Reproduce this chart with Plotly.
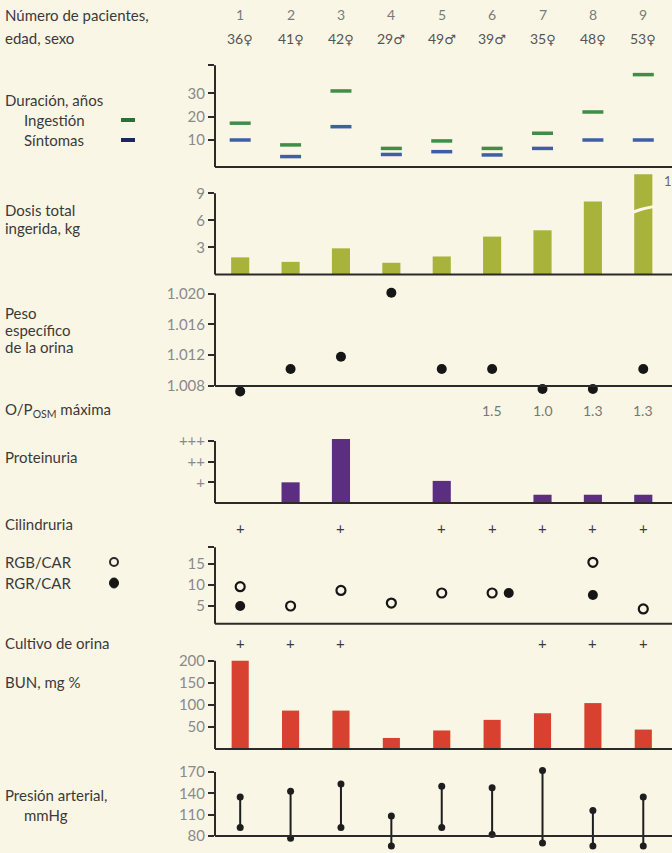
import plotly.graph_objects as go

W, H = 672, 853
PLOT_LEFT = 215  # pixel column of the value axes
FONT = "Lato"

patients = [1, 2, 3, 4, 5, 6, 7, 8, 9]
ages = ["36", "41", "42", "29", "49", "39", "35", "48", "53"]
sexes = ["♀", "♀", "♀", "♂", "♂", "♂", "♀", "♀", "♀"]

# Duración, años
ingestion_years = [17.2, 7.9, 31, 6.4, 9.6, 6.4, 12.9, 22, 38]
symptoms_years = [10, 2.9, 15.7, 3.8, 5, 3.6, 6.4, 10, 10]

# Dosis total ingerida, kg (patient 9 runs off the scale)
total_dose_kg = [1.9, 1.4, 2.9, 1.3, 2.0, 4.2, 4.9, 8.1, 11.1]
dose_break_kg = 7.2
dose_offscale_label = "1"

# Peso específico de la orina
urine_sg = [1.0073, 1.0102, 1.0118, 1.0201, 1.0102, 1.0102, 1.0076, 1.0076, 1.0102]

# O/P osm máxima
op_osm_max = [None, None, None, None, None, 1.5, 1.0, 1.3, 1.3]

# Proteinuria (+ scale)
proteinuria = [None, 1.0, 3.1, None, 1.07, None, 0.4, 0.4, 0.4]
prot_labels = ["+", "++", "+++"]

cylinduria = ["+", "", "+", "", "+", "+", "+", "+", "+"]

# RGB/CAR (open) and RGR/CAR (filled)
rgb_car = [9.6, 5, 8.7, 5.7, 8.1, 8.1, None, 15.4, 4.3]
rgr_car = [5, None, None, None, None, 8.1, None, 7.6, None]
rgr_shift = [0, 0, 0, 0, 0, 0.33, 0, 0, 0]

urine_culture = ["+", "+", "+", "", "", "", "+", "+", "+"]

# BUN, mg %
bun = [200, 87, 87, 25, 42, 66, 81, 104, 44]

# Presión arterial, mmHg
bp_sys = [135, 143, 153, 108, 150, 148, 172, 116, 135]
bp_dia = [92, 77, 92, 66, 92, 82, 70, 66, 66]

GREEN = "#3f8d47"
BLUE = "#3d5fa6"
OLIVE = "#a8b33c"
PURPLE = "#5b2e82"
RED = "#d8412f"
INK = "#2a2a2a"
DOT = "#161616"
TICK_GREY = "#8a8a8a"


def py(p):
    return 1 - p / H


def px(p):
    return (p - PLOT_LEFT) / (W - PLOT_LEFT)


# each panel: two calibration points (value, pixel row), domain rows, baseline, top tick, ticks
panels = [
    dict(cal=((10, 140), (30, 93.3)), dom=(58, 169), base=-1.6, top=42,
         tickvals=[10, 20, 30, 42], ticktext=["10", "20", "30", ""]),
    dict(cal=((0, 274.5), (9, 193.3)), dom=(169, 280), base=0, top=9,
         tickvals=[3, 6, 9], ticktext=["3", "6", "9"]),
    dict(cal=((1.008, 386), (1.020, 293.5)), dom=(285, 400), base=1.008, top=1.020,
         tickvals=[1.008, 1.012, 1.016, 1.020], ticktext=["1.008", "1.012", "1.016", "1.020"]),
    dict(cal=((0, 503), (3, 441)), dom=(425, 509), base=0, top=3,
         tickvals=[1, 2, 3], ticktext=prot_labels),
    dict(cal=((5, 606), (15, 564)), dom=(540, 630), base=0.75, top=19,
         tickvals=[5, 10, 15, 19], ticktext=["5", "10", "15", ""]),
    dict(cal=((0, 749), (200, 660.7)), dom=(652, 754), base=0, top=200,
         tickvals=[50, 100, 150, 200], ticktext=["50", "100", "150", "200"]),
    dict(cal=((80, 836), (170, 772)), dom=(762, 853), base=80, top=170,
         tickvals=[80, 110, 140, 170], ticktext=["80", "110", "140", "170"]),
]

x_range = [0.5, 9.57]

fig = go.Figure()
layout_axes = {}
shapes = []
for k, p in enumerate(panels, start=1):
    (v_a, p_a), (v_b, p_b) = p["cal"]
    scale = (p_a - p_b) / (v_b - v_a)
    top_px, bot_px = p["dom"]
    lo = v_a + (p_a - bot_px) / scale
    hi = v_a + (p_a - top_px) / scale
    sfx = "" if k == 1 else str(k)
    layout_axes["xaxis" + sfx] = dict(domain=[0, 1], range=x_range, anchor="y" + sfx,
                                      visible=False)
    layout_axes["yaxis" + sfx] = dict(
        domain=[py(bot_px), py(top_px)], range=[lo, hi], anchor="x" + sfx,
        tickvals=p["tickvals"], ticktext=p["ticktext"],
        ticks="outside", ticklen=6, tickwidth=2, tickcolor=INK,
        showgrid=False, zeroline=False, showline=False,
        tickfont=dict(family=FONT, size=15, color=TICK_GREY),
    )
    # baseline and short value axis
    shapes.append(dict(type="line", xref="x" + sfx + " domain", yref="y" + sfx,
                       x0=0, x1=1, y0=p["base"], y1=p["base"],
                       line=dict(color=INK, width=2)))
    shapes.append(dict(type="line", xref="x" + sfx + " domain", yref="y" + sfx,
                       x0=0, x1=0, y0=p["base"], y1=p["top"],
                       line=dict(color=INK, width=2)))

# 1. duration dashes
fig.add_trace(go.Scatter(x=patients, y=ingestion_years, mode="markers", xaxis="x", yaxis="y",
                         marker=dict(symbol="line-ew", size=15, line=dict(width=3.5, color=GREEN))))
fig.add_trace(go.Scatter(x=patients, y=symptoms_years, mode="markers", xaxis="x", yaxis="y",
                         marker=dict(symbol="line-ew", size=15, line=dict(width=3.5, color=BLUE))))

# 2. total dose
fig.add_trace(go.Bar(x=patients, y=total_dose_kg, width=0.36, xaxis="x2", yaxis="y2",
                     marker=dict(color=OLIVE, line=dict(width=0))))
brk_x = patients[-1]
fig.add_trace(go.Scatter(x=[brk_x - 0.22, brk_x - 0.05, brk_x + 0.22],
                         y=[dose_break_kg - 0.35, dose_break_kg, dose_break_kg + 0.35],
                         mode="lines", line=dict(color="#fbf8ea", width=3, shape="spline"),
                         xaxis="x2", yaxis="y2"))

# 3. urine specific gravity
fig.add_trace(go.Scatter(x=patients, y=urine_sg, mode="markers", xaxis="x3", yaxis="y3",
                         cliponaxis=False, marker=dict(size=10, color=DOT)))

# 4. proteinuria
fig.add_trace(go.Bar(x=patients, y=proteinuria, width=0.36, xaxis="x4", yaxis="y4",
                     marker=dict(color=PURPLE, line=dict(width=0))))

# 5. casts
fig.add_trace(go.Scatter(x=patients, y=rgb_car, mode="markers", xaxis="x5", yaxis="y5",
                         marker=dict(symbol="circle-open", size=9, color=DOT,
                                     line=dict(width=2.2, color=DOT))))
fig.add_trace(go.Scatter(x=[p + s for p, s in zip(patients, rgr_shift)], y=rgr_car, mode="markers",
                         xaxis="x5", yaxis="y5", marker=dict(size=10, color=DOT)))

# 6. BUN
fig.add_trace(go.Bar(x=patients, y=bun, width=0.34, xaxis="x6", yaxis="y6",
                     marker=dict(color=RED, line=dict(width=0))))

# 7. blood pressure
bp_x, bp_y = [], []
for p, s, d in zip(patients, bp_sys, bp_dia):
    bp_x += [p, p, None]
    bp_y += [d, s, None]
fig.add_trace(go.Scatter(x=bp_x, y=bp_y, mode="lines+markers", xaxis="x7", yaxis="y7",
                         cliponaxis=False, line=dict(color="#1e1e1e", width=2),
                         marker=dict(size=7, color="#1e1e1e")))

annotations = []


def label(text, x_px, y_px, size=15, color="#3a3a3a"):
    annotations.append(dict(text=text, xref="paper", yref="paper", x=px(x_px), y=py(y_px),
                            xanchor="left", yanchor="middle", showarrow=False,
                            font=dict(family=FONT, size=size, color=color)))


def row(texts, y_px, size=14, color="#3a3a3a"):
    for p, t in zip(patients, texts):
        if t:
            annotations.append(dict(text=t, xref="x", yref="paper", x=p, y=py(y_px),
                                    xanchor="center", yanchor="middle", showarrow=False,
                                    font=dict(family=FONT, size=size, color=color)))


label("Número de pacientes,", 3, 15)
label("edad, sexo", 3, 38)
row([str(p) for p in patients], 15, size=14, color="#7a7a7a")
row([f'{a}<span style="font-family:DejaVu Sans;font-size:13px">{s}</span>'
     for a, s in zip(ages, sexes)], 38, size=14, color="#555555")

label("Duración, años", 3, 100)
label("Ingestión", 22, 120)
label("Síntomas", 22, 140)
shapes.append(dict(type="line", xref="paper", yref="paper", x0=px(121), x1=px(135),
                   y0=py(120), y1=py(120), line=dict(color="#2e6e3a", width=4)))
shapes.append(dict(type="line", xref="paper", yref="paper", x0=px(121), x1=px(135),
                   y0=py(140), y1=py(140), line=dict(color="#1c2660", width=4)))

label("Dosis total", 3, 210)
label("ingerida, kg", 3, 228)
annotations.append(dict(text=dose_offscale_label, xref="paper", yref="paper", x=px(662), y=py(181),
                        xanchor="left", yanchor="middle", showarrow=False,
                        font=dict(family=FONT, size=13, color="#666666")))

label("Peso", 3, 313)
label("específico", 3, 330)
label("de la orina", 3, 347)

label("O/P<sub>OSM</sub> máxima", 3, 410)
row(["" if v is None else f"{v:.1f}" for v in op_osm_max], 410, size=14, color="#777777")

label("Proteinuria", 3, 457)
label("Cilindruria", 3, 524)
row(cylinduria, 528, size=15)

label("RGB/CAR", 3, 562)
label("RGR/CAR", 3, 583)
shapes.append(dict(type="circle", xref="paper", yref="paper", xsizemode="pixel", ysizemode="pixel",
                   xanchor=px(114), yanchor=py(562), x0=-4, x1=4, y0=-4, y1=4,
                   line=dict(color=INK, width=2)))
shapes.append(dict(type="circle", xref="paper", yref="paper", xsizemode="pixel", ysizemode="pixel",
                   xanchor=px(114), yanchor=py(583), x0=-4.5, x1=4.5, y0=-5, y1=5,
                   fillcolor=DOT, line=dict(color=DOT, width=1)))

label("Cultivo de orina", 3, 643)
row(urine_culture, 643, size=15)

label("BUN, mg %", 3, 682)

label("Presión arterial,", 3, 795)
label("mmHg", 22, 815)

fig.update_layout(
    width=W, height=H,
    margin=dict(l=PLOT_LEFT, r=0, t=0, b=0),
    paper_bgcolor="#faf6e6", plot_bgcolor="rgba(0,0,0,0)",
    showlegend=False,
    shapes=shapes, annotations=annotations,
    **layout_axes,
)

# drop the browser's default 8px body margin so the figure fills the window
fig.write_html("out.html", config={"displayModeBar": False},
               post_script="document.body.style.margin = '0';")
